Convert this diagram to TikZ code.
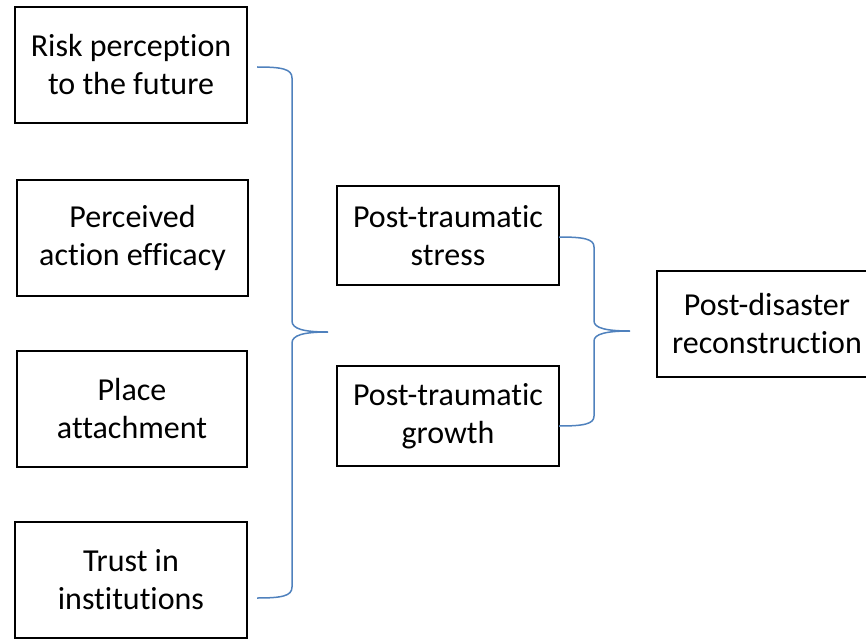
\documentclass[tikz,border=0pt]{standalone}
\usepackage{fontspec}
\setmainfont{Carlito}[Ligatures=NoCommon]
\definecolor{bracecol}{HTML}{4F81BD}
\tikzset{
  factor/.style={draw=black, line width=2.6pt, fill=white, align=center,
    inner sep=0pt, font=\fontsize{32}{38}\selectfont},
  brace/.style={draw=bracecol, line width=1.5pt}
}
\begin{document}
\begin{tikzpicture}[x=1pt, y=-1pt]
\useasboundingbox (0,0) rectangle (866,639);
\clip (0,0) rectangle (866,639);
% left column: four factors
\node[factor, minimum width=232pt, minimum height=116pt] (risk) at (131,65) {Risk perception\\to the future};
\node[factor, minimum width=231pt, minimum height=116pt] (eff) at (132.5,238) {Perceived\\action efficacy};
\node[factor, minimum width=230pt, minimum height=116pt] (place) at (132,409) {Place\\attachment};
\node[factor, minimum width=232pt, minimum height=116pt] (trust) at (131,580) {Trust in\\institutions};
% middle column: outcomes
\node[factor, minimum width=222pt, minimum height=99pt] (pts) at (448,235.5) {Post-traumatic\\stress};
\node[factor, minimum width=222pt, minimum height=100pt] (ptg) at (448,416) {Post-traumatic\\growth};
% right: final outcome
\node[factor, minimum width=220pt, minimum height=106pt] (rec) at (767,324) {Post-disaster\\reconstruction};
% brace joining the four factors
\coordinate (lb1) at (257,67);
\coordinate (lb2) at (257,598);
\coordinate (ltip) at (328,332);
\path[brace] (lb1) .. controls (282,67) and (292,69) .. (292,78)
  -- (292,321) .. controls (292,329) and (304,332) .. (ltip)
  .. controls (304,332) and (292,335) .. (292,343)
  -- (292,587) .. controls (292,596) and (282,598) .. (lb2);
% brace joining the two outcomes
\coordinate (rb1) at (559,237);
\coordinate (rb2) at (559,426);
\coordinate (rtip) at (630,331);
\path[brace] (rb1) .. controls (584,237) and (594,239) .. (594,247)
  -- (594,321) .. controls (594,328) and (606,331) .. (rtip)
  .. controls (606,331) and (594,334) .. (594,341)
  -- (594,416) .. controls (594,424) and (584,426) .. (rb2);
\end{tikzpicture}
\end{document}
